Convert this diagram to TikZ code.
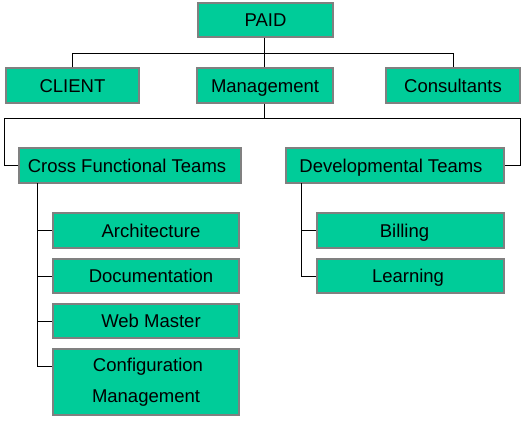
\documentclass[tikz,border=0pt]{standalone}
\usepackage{fontspec}
\setmainfont{Liberation Sans}
\definecolor{boxgreen}{HTML}{00CC99}
\definecolor{boxgray}{HTML}{808080}
\begin{document}
\begin{tikzpicture}[x=1pt,y=-1pt,
  box/.style={draw=boxgray, fill=boxgreen, line width=1.2pt, inner sep=0pt,
    font=\fontsize{18.5}{31}\selectfont, align=center, text height=17pt, text depth=3.7pt},
  conn/.style={line width=1pt, black}]
\useasboundingbox (0,0) rectangle (525,434);
% top level
\node[box, minimum width=135pt, minimum height=34pt] (paid) at (265.5,20) {PAID};
\node[box, minimum width=133pt, minimum height=35pt] (client) at (72.5,85.5) {CLIENT};
\node[box, minimum width=136pt, minimum height=35pt] (mgmt) at (265,85.5) {Management};
\node[box, minimum width=134pt, minimum height=35pt] (cons) at (453,85.5) {Consultants};
% second level
\node[box, minimum width=222pt, minimum height=35pt] (cross) at (130,165.5) {\hspace*{-6pt}Cross Functional Teams};
\node[box, minimum width=218pt, minimum height=35pt] (dev) at (395,165.5) {\hspace*{-8pt}Developmental Teams};
% cross functional children
\node[box, minimum width=186pt, minimum height=35pt] (arch) at (146,230.5) {\hspace*{10pt}Architecture};
\node[box, minimum width=186pt, minimum height=34pt] (doc) at (146,276) {\hspace*{10pt}Documentation};
\node[box, minimum width=186pt, minimum height=34pt] (web) at (146,321) {\hspace*{10pt}Web Master};
\node[box, minimum width=186pt, minimum height=66pt, text height={}, text depth={}] (conf) at (146,382) {\raisebox{-2pt}{\hspace*{4pt}Configuration}\\\raisebox{-2pt}{Management}};
% developmental children
\node[box, minimum width=187pt, minimum height=35pt] (bill) at (410.5,230.5) {\hspace*{-12pt}Billing};
\node[box, minimum width=187pt, minimum height=34pt] (learn) at (410.5,276) {\hspace*{-5pt}Learning};
% connectors
\coordinate (bus1) at (264,53.5);
\coordinate (bus2) at (264,118);
\coordinate (lft) at (4,118);
\coordinate (rgt) at (520,118);
\coordinate (crossx) at (37,183);
\coordinate (devx) at (301,183);
\draw[conn] (paid.south -| bus1) -- (mgmt.north -| bus1);
\draw[conn] (client.north) -- (client.north |- bus1) -- (cons.north |- bus1) -- (cons.north);
\draw[conn] (mgmt.south -| bus2) -- (bus2);
\draw[conn] (cross.west) -| (lft) -- (rgt) |- (dev.east);
\draw[conn] (crossx) |- (conf.west |- 0,366);
\draw[conn] (crossx |- arch.west) -- (arch.west);
\draw[conn] (crossx |- doc.west) -- (doc.west);
\draw[conn] (crossx |- web.west) -- (web.west);
\draw[conn] (devx) |- (learn.west);
\draw[conn] (devx |- bill.west) -- (bill.west);
\end{tikzpicture}
\end{document}
